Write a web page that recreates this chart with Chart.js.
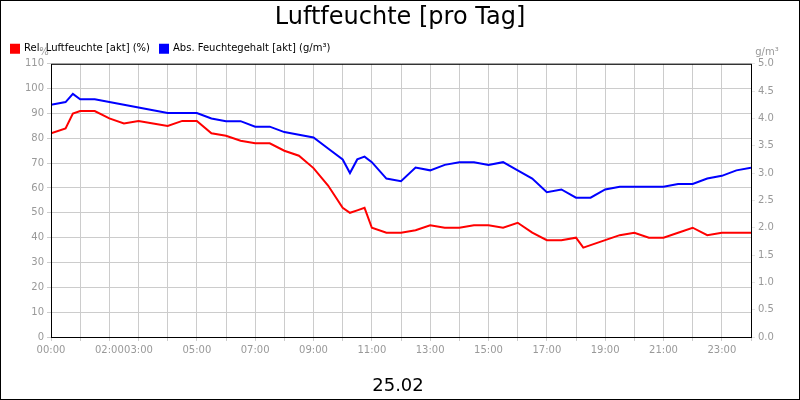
<!DOCTYPE html>
<html><head><meta charset="utf-8">
<script src="https://cdn.jsdelivr.net/npm/chart.js@4/dist/chart.umd.min.js"></script>
<style>
html,body{margin:0;padding:0;background:#fff;}
#wrap{width:798px;height:398px;border:1px solid #000;position:relative;}
</style></head>
<body><div id="wrap"><canvas id="c" width="798" height="398"></canvas></div>
<script>
const hours=[0,0.5,0.75,1,1.5,2,2.5,3,3.5,4,4.5,5,5.5,6,6.5,7,7.5,8,8.5,9,9.5,10,10.25,10.5,10.75,11,11.5,12,12.5,13,13.5,14,14.5,15,15.5,16,16.5,17,17.5,18,18.25,18.5,19,19.5,20,20.5,21,21.5,22,22.5,23,23.5,24];
const relHum=[82,84,90,91,91,88,86,87,86,85,87,87,82,81,79,78,78,75,73,68,61,52,50,51,52,44,42,42,43,45,44,44,45,45,44,46,42,39,39,40,36,37,39,41,42,40,40,42,44,41,42,42,42];
const absHum=[4.25,4.3,4.45,4.35,4.35,4.3,4.25,4.2,4.15,4.1,4.1,4.1,4.0,3.95,3.95,3.85,3.85,3.75,3.7,3.65,3.45,3.25,3.0,3.25,3.3,3.2,2.9,2.85,3.1,3.05,3.15,3.2,3.2,3.15,3.2,3.05,2.9,2.65,2.7,2.55,2.55,2.55,2.7,2.75,2.75,2.75,2.75,2.8,2.8,2.9,2.95,3.05,3.1];
const shownHours=[0,2,3,5,7,9,11,13,15,17,19,21,23];

const extras={id:'extras',afterDraw(ch){
  const {ctx,chartArea:a}=ch;
  ctx.save();
  ctx.strokeStyle='#000';ctx.lineWidth=1;
  ctx.strokeRect(a.left+0.5,a.top+0.5,a.right-a.left,a.bottom-a.top);
  ctx.fillStyle='#999';ctx.font='10px "DejaVu Sans"';
  ctx.textAlign='center';ctx.fillText('%',43,51);
  ctx.fillText('g/m³',766,51);
  ctx.fillStyle='#000';ctx.font='18px "DejaVu Sans"';
  ctx.fillText('25.02',397,385);
  ctx.restore();
}};

new Chart(document.getElementById('c'),{
  type:'line',
  data:{datasets:[
    {label:'Rel. Luftfeuchte [akt] (%)',data:hours.map((h,i)=>({x:h,y:relHum[i]})),borderColor:'#f00',backgroundColor:'#f00',borderWidth:2,pointRadius:0,yAxisID:'y'},
    {label:'Abs. Feuchtegehalt [akt] (g/m³)',data:hours.map((h,i)=>({x:h,y:absHum[i]})),borderColor:'#00f',backgroundColor:'#00f',borderWidth:2,pointRadius:0,yAxisID:'y2'}
  ]},
  options:{
    responsive:false,animation:false,
    layout:{padding:{left:0,right:0,top:0,bottom:40}},
    plugins:{
      title:{display:true,text:'Luftfeuchte [pro Tag]',color:'#000',font:{size:24,family:'DejaVu Sans',weight:'normal'},padding:{top:2,bottom:2}},
      legend:{align:'start',labels:{boxWidth:8,boxHeight:8,font:{size:10,family:'DejaVu Sans'},color:'#000',padding:10},
        onClick:null},
      tooltip:{enabled:false}
    },
    scales:{
      x:{type:'linear',min:0,max:24,
        afterBuildTicks(ax){ax.ticks=[];for(let h=0;h<=24;h++)ax.ticks.push({value:h});},
        ticks:{color:'#999',font:{size:10,family:'DejaVu Sans'},maxRotation:0,autoSkip:false,
          callback:v=>shownHours.includes(v)?String(v).padStart(2,'0')+':00':''},
        grid:{color:'#ccc',drawTicks:true,tickLength:4}},
      y:{position:'left',min:0,max:110,ticks:{stepSize:10,color:'#999',font:{size:10,family:'DejaVu Sans'}},
        grid:{color:'#ccc',tickLength:4},afterFit(ax){ax.width=50;}},
      y2:{position:'right',min:0,max:5,ticks:{stepSize:0.5,color:'#999',font:{size:10,family:'DejaVu Sans'},callback:v=>v.toFixed(1)},
        grid:{drawOnChartArea:false,tickLength:4},afterFit(ax){ax.width=48;}}
    }
  },
  plugins:[extras]
});
</script></body></html>
